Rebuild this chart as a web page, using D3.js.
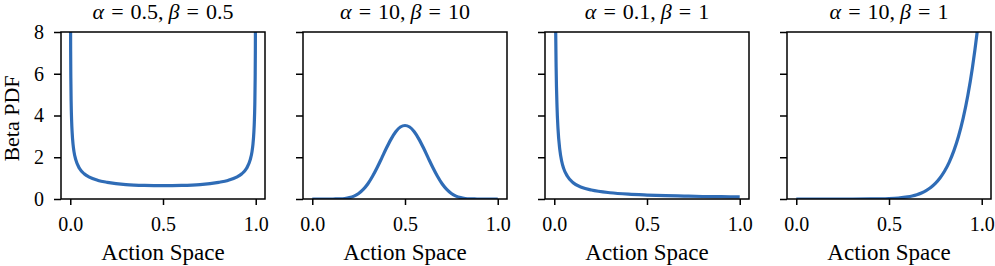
<!DOCTYPE html>
<html>
<head>
<meta charset="utf-8">
<script src="https://cdn.jsdelivr.net/npm/d3@7"></script>
<style>
  body { margin: 0; background: #fff; }
  text { font-family: "Liberation Serif", "Times New Roman", serif; fill: #000; }
</style>
</head>
<body>
<div id="chart"></div>
<script>
// panel parameters (shown in titles)
const alphas = ["0.5", "10", "0.1", "10"];
const betas  = ["0.5", "10", "1", "1"];

// values
const x1 = [0.001, 0.002, 0.003, 0.005, 0.0075, 0.01, 0.015, 0.02, 0.03, 0.05, 0.075, 0.1, 0.15, 0.2, 0.3, 0.4, 0.5,
            0.6, 0.7, 0.8, 0.85, 0.9, 0.925, 0.95, 0.97, 0.98, 0.985, 0.99, 0.9925, 0.995, 0.997, 0.998, 0.999];
const y1 = [10.07, 7.13, 5.82, 4.51, 3.69, 3.20, 2.62, 2.27, 1.87, 1.46, 1.21, 1.06, 0.89, 0.80, 0.69, 0.65, 0.64,
            0.65, 0.69, 0.80, 0.89, 1.06, 1.21, 1.46, 1.87, 2.27, 2.62, 3.20, 3.69, 4.51, 5.82, 7.13, 10.07];

const x2 = [0, 0.05, 0.1, 0.125, 0.15, 0.175, 0.2, 0.225, 0.25, 0.275, 0.3, 0.325, 0.35, 0.375, 0.4, 0.425, 0.45, 0.475, 0.5,
            0.525, 0.55, 0.575, 0.6, 0.625, 0.65, 0.675, 0.7, 0.725, 0.75, 0.775, 0.8, 0.825, 0.85, 0.875, 0.9, 0.95, 1];
const y2 = [0, 0, 0.0004, 0.002, 0.008, 0.025, 0.064, 0.138, 0.265, 0.46, 0.73, 1.09, 1.51, 1.97, 2.44, 2.87, 3.22, 3.45, 3.52,
            3.45, 3.22, 2.87, 2.44, 1.97, 1.51, 1.09, 0.73, 0.46, 0.265, 0.138, 0.064, 0.025, 0.008, 0.002, 0.0004, 0, 0];

const x3 = [0.005, 0.0075, 0.01, 0.015, 0.02, 0.03, 0.04, 0.05, 0.07, 0.1, 0.15, 0.2, 0.3, 0.4, 0.5, 0.6, 0.7, 0.8, 0.9, 1];
const y3 = [11.77, 8.17, 6.31, 4.38, 3.38, 2.35, 1.81, 1.48, 1.10, 0.79, 0.55, 0.43, 0.30, 0.23, 0.19, 0.16, 0.14, 0.12, 0.11, 0.10];

const x4 = [0, 0.1, 0.2, 0.3, 0.4, 0.45, 0.5, 0.55, 0.6, 0.625, 0.65, 0.675, 0.7, 0.725, 0.75, 0.775, 0.8,
            0.825, 0.85, 0.875, 0.9, 0.925, 0.95, 0.975, 1];
const y4 = [0, 0, 0, 0.0002, 0.0026, 0.0076, 0.0195, 0.046, 0.101, 0.146, 0.207, 0.291, 0.404, 0.553, 0.751, 1.009, 1.342,
            1.770, 2.316, 3.007, 3.874, 4.958, 6.302, 7.963, 10];

const xTicks = [0, 0.5, 1];
const yTicks = [0, 2, 4, 6, 8];

const series = [[x1, y1], [x2, y2], [x3, y3], [x4, y4]];

// layout
const W = 995, H = 266;
const panelLeft = [61, 303, 545, 787];
const panelW = 204;
const plotTop = 32, plotBottom = 199;
const panelH = plotBottom - plotTop;
const lineColor = "#2f6cb6";
const serif = "'Liberation Serif', 'Times New Roman', serif";

const svg = d3.select("#chart").append("svg")
    .attr("width", W)
    .attr("height", H);

const x = d3.scaleLinear().domain([-0.05, 1.05]).range([0, panelW]);
const y = d3.scaleLinear().domain([0, 8]).range([panelH, 0]);

const line = d3.line()
    .x(d => x(d[0]))
    .y(d => y(d[1]))
    .curve(d3.curveMonotoneX);

series.forEach((s, i) => {
  const g = svg.append("g")
      .attr("transform", `translate(${panelLeft[i]},${plotTop})`);

  g.append("clipPath").attr("id", "clip" + i)
    .append("rect")
      .attr("width", panelW)
      .attr("height", panelH);

  const pts = s[0].map((v, j) => [v, s[1][j]]);
  g.append("path")
      .datum(pts)
      .attr("clip-path", `url(#clip${i})`)
      .attr("fill", "none")
      .attr("stroke", lineColor)
      .attr("stroke-width", 3.2)
      .attr("stroke-linejoin", "round")
      .attr("d", line);

  // axes
  const xAxis = g.append("g")
      .attr("transform", `translate(0,${panelH})`)
      .call(d3.axisBottom(x).tickValues(xTicks).tickFormat(d3.format(".1f"))
        .tickSize(6).tickSizeOuter(0).tickPadding(12));

  const yAxis = g.append("g")
      .call(d3.axisLeft(y).tickValues(yTicks).tickFormat(i === 0 ? d3.format("d") : () => "")
        .tickSize(7).tickSizeOuter(0).tickPadding(10));

  [xAxis, yAxis].forEach(a => {
    a.attr("font-family", serif).attr("font-size", 20);
    a.select(".domain").remove();
    a.selectAll(".tick line").attr("stroke", "#000").attr("stroke-width", 1.5);
    a.selectAll(".tick text")
        .style("font-family", serif)
        .style("font-size", "20px")
        .attr("fill", "#000");
  });

  // frame
  g.append("rect")
      .attr("width", panelW)
      .attr("height", panelH)
      .attr("fill", "none")
      .attr("stroke", "#000")
      .attr("stroke-width", 1.5);

  // title, with math-like spacing around "="
  const t = g.append("text")
      .attr("x", panelW / 2)
      .attr("y", 18.5 - plotTop)
      .attr("text-anchor", "middle")
      .style("font-size", "22px");
  t.append("tspan").style("font-style", "italic").text("\u03b1");
  t.append("tspan").attr("dx", 7).text("=");
  t.append("tspan").attr("dx", 7).text(alphas[i] + ",");
  t.append("tspan").attr("dx", 5).style("font-style", "italic").text("\u03b2");
  t.append("tspan").attr("dx", 7).text("=");
  t.append("tspan").attr("dx", 7).text(betas[i]);

  // x label
  g.append("text")
      .attr("x", panelW / 2)
      .attr("y", 260 - plotTop)
      .attr("text-anchor", "middle")
      .style("font-size", "23px")
      .text("Action Space");
});

svg.append("text")
    .attr("transform", `translate(19,${(plotTop + plotBottom) / 2 + 3}) rotate(-90)`)
    .attr("text-anchor", "middle")
    .style("font-size", "22px")
    .text("Beta PDF");
</script>
</body>
</html>
